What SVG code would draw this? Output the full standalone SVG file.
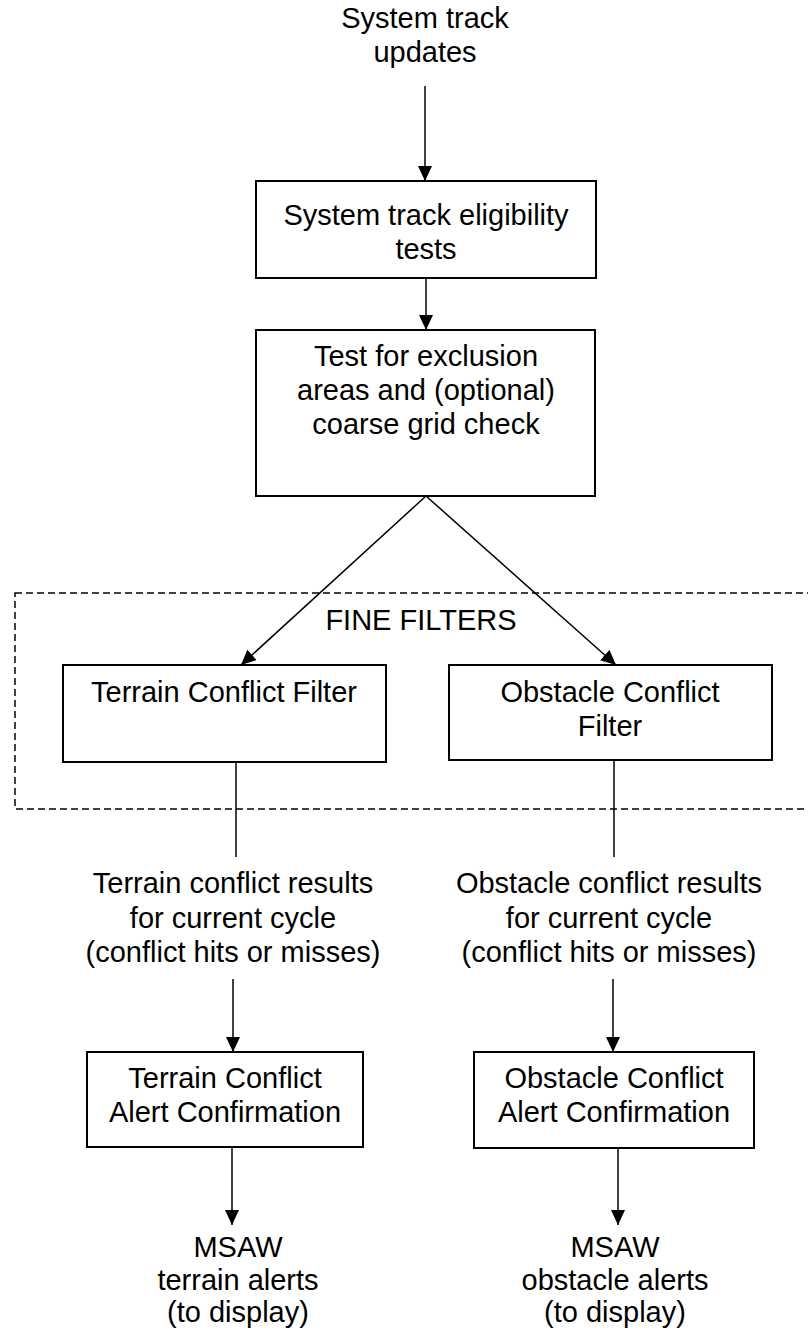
<svg xmlns="http://www.w3.org/2000/svg" width="808" height="1334" viewBox="0 0 808 1334">
<style>
text{font-family:"Liberation Sans",Arial,sans-serif;font-size:29px;fill:#000;text-anchor:middle}
.box{fill:#fff;stroke:#000;stroke-width:2}
.conn line{stroke:#000;stroke-width:1.5;fill:none}
.dash{fill:none;stroke:#000;stroke-width:1.5;stroke-dasharray:7 4}
</style>
<defs>
<marker id="ah" markerUnits="userSpaceOnUse" markerWidth="16" markerHeight="14" refX="15" refY="7" orient="auto">
<path d="M0,0 L15,7 L0,14 z" fill="#000"/>
</marker>
</defs>
<g id="fine-filters">
<rect class="dash" x="15" y="593" width="820" height="216"/>
<text x="421" y="630">FINE FILTERS</text>
</g>
<g id="input">
<text x="425" y="28">System track</text>
<text x="425" y="62">updates</text>
</g>
<g id="eligibility">
<rect class="box" x="256" y="181" width="340" height="97"/>
<text x="426" y="225">System track eligibility</text>
<text x="426" y="259">tests</text>
</g>
<g id="exclusion">
<rect class="box" x="256" y="330" width="339" height="166"/>
<text x="426" y="366">Test for exclusion</text>
<text x="426" y="400">areas and (optional)</text>
<text x="426" y="434">coarse grid check</text>
</g>
<g id="terrain-filter">
<rect class="box" x="63" y="665" width="323" height="97"/>
<text x="224" y="702">Terrain Conflict Filter</text>
</g>
<g id="obstacle-filter">
<rect class="box" x="449" y="665" width="323" height="95"/>
<text x="610" y="702">Obstacle Conflict</text>
<text x="610" y="736">Filter</text>
</g>
<g id="terrain-results">
<text x="233" y="893">Terrain conflict results</text>
<text x="233" y="928">for current cycle</text>
<text x="233" y="962">(conflict hits or misses)</text>
</g>
<g id="obstacle-results">
<text x="609" y="893">Obstacle conflict results</text>
<text x="609" y="928">for current cycle</text>
<text x="609" y="962">(conflict hits or misses)</text>
</g>
<g id="terrain-confirm">
<rect class="box" x="87" y="1052" width="276" height="95"/>
<text x="225" y="1088">Terrain Conflict</text>
<text x="225" y="1122">Alert Confirmation</text>
</g>
<g id="obstacle-confirm">
<rect class="box" x="474" y="1052" width="280" height="96"/>
<text x="614" y="1088">Obstacle Conflict</text>
<text x="614" y="1122">Alert Confirmation</text>
</g>
<g id="terrain-alerts">
<text x="238" y="1257">MSAW</text>
<text x="238" y="1290">terrain alerts</text>
<text x="238" y="1322">(to display)</text>
</g>
<g id="obstacle-alerts">
<text x="615" y="1257">MSAW</text>
<text x="615" y="1290">obstacle alerts</text>
<text x="615" y="1322">(to display)</text>
</g>
<g id="connectors" class="conn">
<line x1="425" y1="86" x2="425" y2="181" marker-end="url(#ah)"/>
<line x1="426" y1="278" x2="426" y2="330" marker-end="url(#ah)"/>
<line x1="426" y1="496" x2="241" y2="665" marker-end="url(#ah)"/>
<line x1="426" y1="496" x2="616" y2="665" marker-end="url(#ah)"/>
<line x1="236" y1="762" x2="236" y2="857"/>
<line x1="614" y1="760" x2="614" y2="857"/>
<line x1="233" y1="979" x2="233" y2="1052" marker-end="url(#ah)"/>
<line x1="613" y1="979" x2="613" y2="1052" marker-end="url(#ah)"/>
<line x1="232" y1="1147" x2="232" y2="1225" marker-end="url(#ah)"/>
<line x1="618" y1="1148" x2="618" y2="1225" marker-end="url(#ah)"/>
</g>
</svg>
